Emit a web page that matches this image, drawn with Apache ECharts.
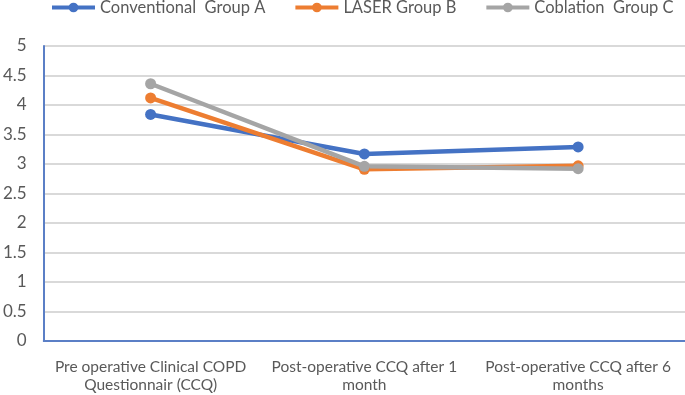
<!DOCTYPE html>
<html>
<head>
<meta charset="utf-8">
<script src="https://cdn.jsdelivr.net/npm/echarts@6/dist/echarts.min.js"></script>
<style>
  html, body { margin: 0; padding: 0; background: #fff; }
  #chart { width: 685px; height: 395px; }
</style>
</head>
<body>
<div id="chart"></div>
<script>
// 横轴分类
var categories = [
    'Pre operative Clinical COPD\nQuestionnair (CCQ)',
    'Post-operative CCQ after 1\nmonth',
    'Post-operative CCQ after 6\nmonths'
];
// 各组数据
var groupA = [3.84, 3.17, 3.29];
var groupB = [4.12, 2.91, 2.97];
var groupC = [4.36, 2.96, 2.92];
var seriesNames = ['Conventional  Group A', 'LASER Group B', 'Coblation  Group C'];
var colors = ['#4472C4', '#ED7D31', '#A5A5A5'];

var myChart = echarts.init(document.getElementById('chart'));

function makeSeries(name, data, color) {
    return {
        name: name,
        type: 'line',
        data: data,
        symbol: 'circle',
        symbolSize: 11,
        itemStyle: { color: color },
        lineStyle: { color: color, width: 4.5 }
    };
}

var option = {
    animation: false,
    textStyle: { fontFamily: 'Lato' },
    legend: {
        top: -1,
        left: 50,
        width: 630,
        padding: 0,
        itemWidth: 43,
        itemHeight: 12,
        itemGap: 28,
        lineStyle: { width: 4 },
        textStyle: { color: '#595959', fontSize: 16.5, fontFamily: 'Lato' },
        data: seriesNames
    },
    grid: { left: 39.5, right: 0, top: 46, bottom: 54 },
    xAxis: {
        type: 'category',
        data: categories,
        boundaryGap: true,
        axisLine: { lineStyle: { color: '#5B7FC6', width: 2 } },
        axisTick: { show: false },
        axisLabel: { color: '#595959', fontSize: 15.5, lineHeight: 18, margin: 17, interval: 0 }
    },
    yAxis: {
        type: 'value',
        min: 0,
        max: 5,
        interval: 0.5,
        axisLine: { show: true, lineStyle: { color: '#5B7FC6', width: 2 } },
        axisTick: { show: false },
        axisLabel: { color: '#595959', fontSize: 17, margin: 17 },
        splitLine: { lineStyle: { color: '#D9D9D9', width: 2 } }
    },
    series: [
        makeSeries(seriesNames[0], groupA, colors[0]),
        makeSeries(seriesNames[1], groupB, colors[1]),
        makeSeries(seriesNames[2], groupC, colors[2])
    ]
};

myChart.setOption(option);
</script>
</body>
</html>
